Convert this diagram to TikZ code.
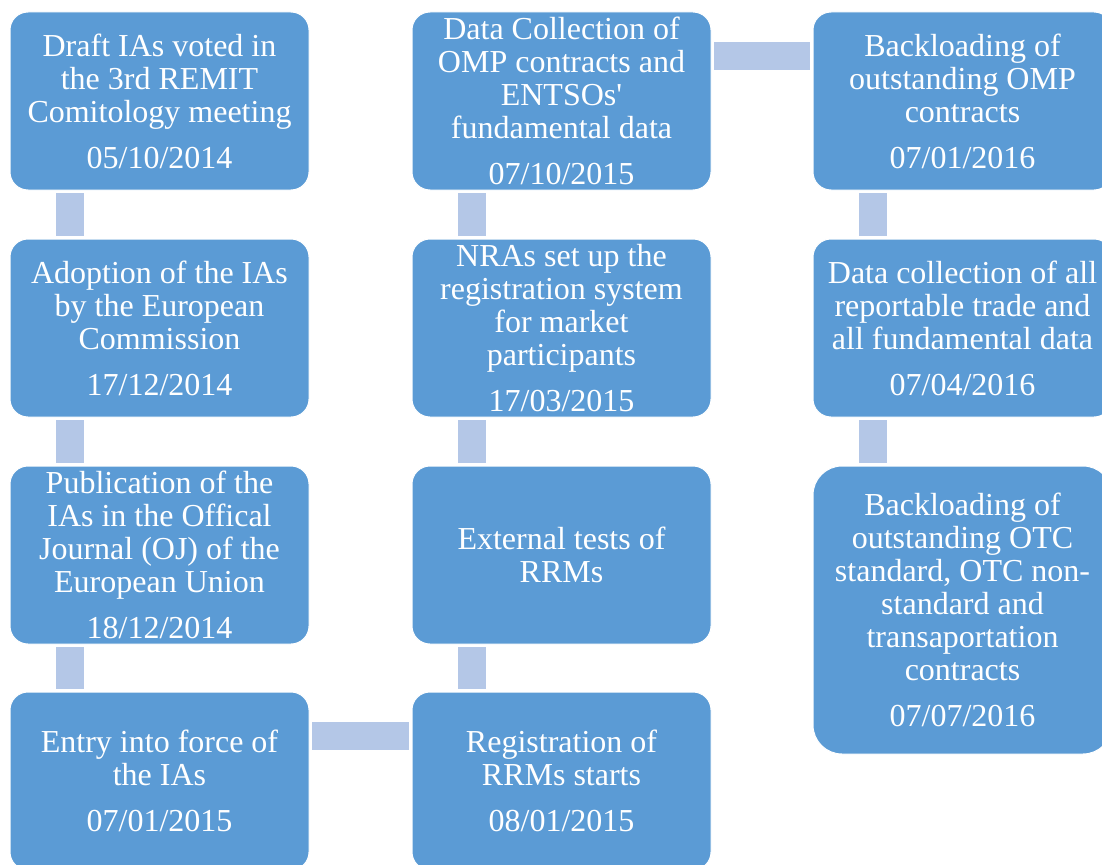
\documentclass[tikz,border=0pt]{standalone}
\usepackage{fontspec}
\newfontfamily\boxfont{Liberation Serif}

\definecolor{boxblue}{HTML}{5B9BD5}
\definecolor{linkblue}{HTML}{B4C7E7}

\tikzset{
    event/.style={draw=white, line width=1pt, fill=boxblue, rounded corners=18pt,
        minimum width=299pt, minimum height=178pt, inner sep=0pt, outer sep=0pt,
        text width=296pt, align=flush center, text=white,
        font=\boxfont\fontsize{32}{33}\selectfont},
    link/.style={draw=linkblue, line width=28pt, shorten <=3pt, shorten >=3pt}
}

\begin{document}
\begin{tikzpicture}[x=1pt, y=-1pt]

    % Fix the page to the size of the picture
    \useasboundingbox (0,0) rectangle (1102,864);

    % Centres of the boxes: three columns, four rows
    \coordinate (p11) at (159.5,101);
    \coordinate (p12) at (159.5,328);
    \coordinate (p13) at (159.5,555);
    \coordinate (p14) at (159.5,781);
    \coordinate (p21) at (561.5,101);
    \coordinate (p22) at (561.5,328);
    \coordinate (p23) at (561.5,555);
    \coordinate (p24) at (561.5,781);
    \coordinate (p31) at (962.5,101);
    \coordinate (p32) at (962.5,328);
    \coordinate (p33) at (962.5,610);

    % First column
    \node[event] (e11) at (p11) {Draft IAs voted in\\the 3rd REMIT\\Comitology meeting\\[13pt]05/10/2014};
    \node[event] (e12) at (p12) {Adoption of the IAs\\by the European\\Commission\\[13pt]17/12/2014};
    \node[event] (e13) at (p13) {Publication of the\\IAs in the Offical\\Journal (OJ) of the\\European Union\\[13pt]18/12/2014};
    \node[event] (e14) at (p14) {Entry into force of\\the IAs\\[13pt]07/01/2015};

    % Second column
    \node[event] (e21) at (p21) {Data Collection of\\OMP contracts and\\ENTSOs'\\fundamental data\\[13pt]07/10/2015};
    \node[event] (e22) at (p22) {NRAs set up the\\registration system\\for market\\participants\\[13pt]17/03/2015};
    \node[event] (e23) at (p23) {External tests of\\RRMs};
    \node[event] (e24) at (p24) {Registration of\\RRMs starts\\[13pt]08/01/2015};

    % Third column
    \node[event] (e31) at (p31) {Backloading of\\outstanding OMP\\contracts\\[13pt]07/01/2016};
    \node[event] (e32) at (p32) {Data collection of all\\reportable trade and\\all fundamental data\\[13pt]07/04/2016};
    \node[event, minimum height=288pt, rounded corners=29pt] (e33) at (p33) {Backloading of\\outstanding OTC\\standard, OTC non-\\standard and\\transaportation\\contracts\\[13pt]07/07/2016};

    % Links down the first column
    \draw[link] ([xshift=60pt]e11.south west) -- ([xshift=60pt]e12.north west);
    \draw[link] ([xshift=60pt]e12.south west) -- ([xshift=60pt]e13.north west);
    \draw[link] ([xshift=60pt]e13.south west) -- ([xshift=60pt]e14.north west);

    % Across to the second column, then up
    \draw[link] ([yshift=-44pt]e14.north east) -- ([yshift=-44pt]e24.north west);
    \draw[link] ([xshift=60pt]e24.north west) -- ([xshift=60pt]e23.south west);
    \draw[link] ([xshift=60pt]e23.north west) -- ([xshift=60pt]e22.south west);
    \draw[link] ([xshift=60pt]e22.north west) -- ([xshift=60pt]e21.south west);

    % Across to the third column, then down
    \draw[link] ([yshift=-44pt]e21.north east) -- ([yshift=-44pt]e31.north west);
    \draw[link] ([xshift=60pt]e31.south west) -- ([xshift=60pt]e32.north west);
    \draw[link] ([xshift=60pt]e32.south west) -- ([xshift=60pt]e33.north west);

\end{tikzpicture}
\end{document}
